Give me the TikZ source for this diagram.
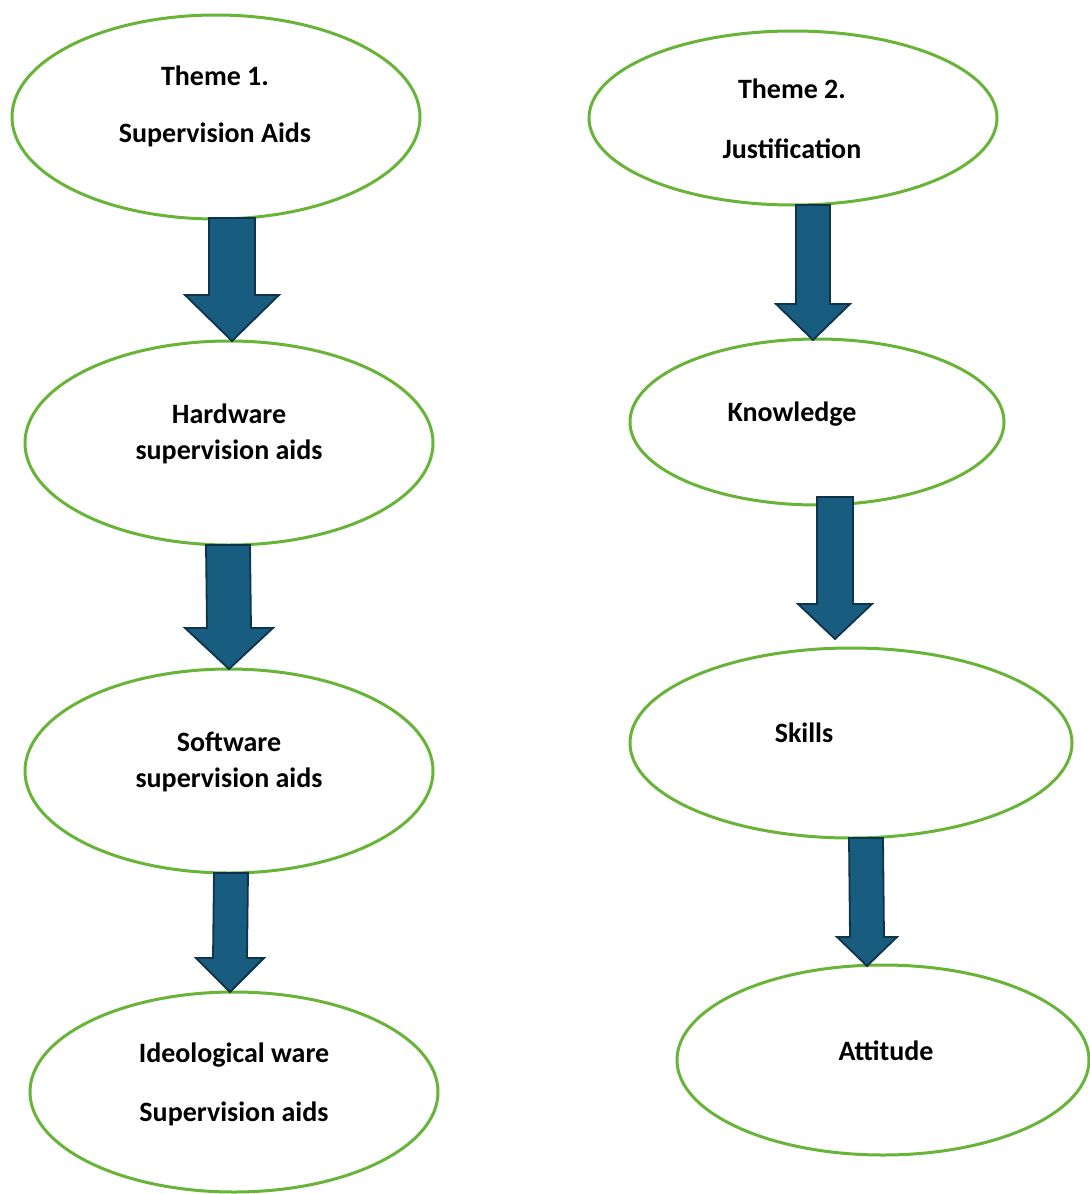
\documentclass[tikz,border=0pt]{standalone}
\usepackage{fontspec}
\setmainfont{Carlito}
\usetikzlibrary{shapes.geometric,calc}
\definecolor{ringgreen}{RGB}{104,180,56}
\definecolor{arrowfill}{RGB}{24,92,128}
\definecolor{arrowedge}{RGB}{14,52,74}
% block arrow: #1 top centre, #2 tip, #3 shaft half width, #4 head half width, #5 head length
\newcommand{\blockarrow}[5]{%
  \draw[blockarr]
    ($(#1)+(-#3,0)$) -- ($(#1)+(#3,0)$) -- ($(#2)+(#3,-#5)$)
    -- ($(#2)+(#4,-#5)$) -- (#2) -- ($(#2)+(-#4,-#5)$)
    -- ($(#2)+(-#3,-#5)$) -- cycle;}
\begin{document}
\begin{tikzpicture}[x=0.5pt,y=-0.5pt,
  ring/.style={ellipse,draw=ringgreen,line width=1.5pt,fill=white,inner sep=0pt},
  lbl/.style={font=\fontsize{14}{17}\selectfont\bfseries,text=black,inner sep=0pt},
  blockarr/.style={fill=arrowfill,draw=arrowedge,line width=0.9pt,line join=miter}]
\useasboundingbox (0,0) rectangle (1090,1194);
% left column
\node[ring,minimum width=204pt,minimum height=102pt] (e1) at (216,117) {};
\node[ring,minimum width=204pt,minimum height=102pt] (e3) at (229,443) {};
\node[ring,minimum width=204pt,minimum height=102pt] (e5) at (229,771) {};
\node[ring,minimum width=204pt,minimum height=100pt] (e7) at (234,1092) {};
% right column
\node[ring,minimum width=204pt,minimum height=87pt] (e2) at (793,118) {};
\node[ring,minimum width=187pt,minimum height=83pt] (e4) at (817,422) {};
\node[ring,minimum width=221pt,minimum height=95pt] (e6) at (851,743) {};
\node[ring,minimum width=206pt,minimum height=95pt] (e8) at (883,1060) {};
% labels
\node[lbl] (t1a) at (215,76) {Theme 1.};
\node[lbl] (t1b) at (215,135) {Supervision Aids};
\node[lbl] (t3a) at (229,414) {Hardware};
\node[lbl] (t3b) at (229,452) {supervision aids};
\node[lbl] (t5a) at (229,742) {Software};
\node[lbl] (t5b) at (229,780) {supervision aids};
\node[lbl] (t7a) at (234,1055) {Ideological ware};
\node[lbl] (t7b) at (234,1114) {Supervision aids};
\node[lbl] (t2a) at (792,89) {Theme 2.};
\node[lbl] (t2b) at (792,149) {Justification};
\node[lbl] (t4) at (792,414) {Knowledge};
\node[lbl] (t6) at (804,733) {Skills};
\node[lbl] (t8) at (886,1051) {Attitude};
% arrow anchors
\coordinate (a1s) at (232,218); \coordinate (a1e) at (232,341);
\coordinate (a3s) at (228,545); \coordinate (a3e) at (229,669);
\coordinate (a5s) at (231,873); \coordinate (a5e) at (230,992);
\coordinate (a2s) at (813,205); \coordinate (a2e) at (813,340);
\coordinate (a4s) at (835,497); \coordinate (a4e) at (835,639);
\coordinate (a6s) at (866,838); \coordinate (a6e) at (867,966);
% arrows
\blockarrow{a1s}{a1e}{23}{47}{46}
\blockarrow{a3s}{a3e}{22}{44}{41}
\blockarrow{a5s}{a5e}{17}{34}{34}
\blockarrow{a2s}{a2e}{17}{37}{36}
\blockarrow{a4s}{a4e}{18}{37}{35}
\blockarrow{a6s}{a6e}{17}{30}{29}
\end{tikzpicture}
\end{document}
